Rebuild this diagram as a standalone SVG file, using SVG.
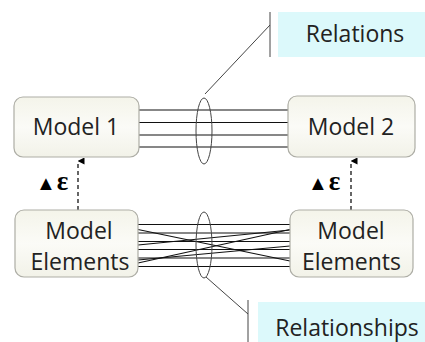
<svg xmlns="http://www.w3.org/2000/svg" width="425" height="342" viewBox="0 0 425 342">
<defs>
<linearGradient id="boxg" x1="0" y1="0" x2="0" y2="1">
<stop offset="0" stop-color="#f4f4ea"/>
<stop offset="0.5" stop-color="#fbfbf7"/>
<stop offset="1" stop-color="#f2f2e8"/>
</linearGradient>
<marker id="ah" markerWidth="7" markerHeight="7" refX="3.5" refY="0.5" orient="auto-start-reverse" markerUnits="userSpaceOnUse" viewBox="0 0 7 7">
<path d="M0,7 L3.5,0 L7,7 Z" fill="#000"/>
</marker>
</defs>
<style>
.box{fill:url(#boxg);stroke:#adada5;stroke-width:1.2}
.lbl{font-family:"Open Sans","Liberation Sans",sans-serif;font-size:23px;fill:#222;text-anchor:middle}
.ln{stroke:#111;stroke-width:1.1;fill:none}
.ell{stroke:#444;stroke-width:1;fill:none}
.call{stroke:#444;stroke-width:1;fill:none}
.note{fill:#dcf9fb}
.dash{stroke:#000;stroke-width:1.2;stroke-dasharray:4,3;fill:none}
.eps{font-family:"Liberation Serif",serif;font-weight:bold;fill:#000}
</style>
<g id="connectors">
<line class="ln" x1="139" y1="110" x2="288" y2="110"/>
<line class="ln" x1="139" y1="122.5" x2="288" y2="122.5"/>
<line class="ln" x1="139" y1="135" x2="288" y2="135"/>
<line class="ln" x1="139" y1="147" x2="288" y2="147"/>
<line class="ln" x1="138" y1="224.5" x2="290" y2="224.5"/>
<line class="ln" x1="138" y1="233" x2="290" y2="233"/>
<line class="ln" x1="138" y1="241.5" x2="290" y2="241.5"/>
<line class="ln" x1="138" y1="249.5" x2="290" y2="249.5"/>
<line class="ln" x1="138" y1="258" x2="290" y2="258"/>
<line class="ln" x1="138" y1="266.5" x2="290" y2="266.5"/>
<line class="ln" x1="138" y1="229.5" x2="290" y2="261"/>
<line class="ln" x1="138" y1="245" x2="290" y2="230"/>
<line class="ln" x1="138" y1="263" x2="290" y2="229.5"/>
<line class="ln" x1="138" y1="260" x2="290" y2="246"/>
<line class="dash" x1="78" y1="210" x2="78" y2="161" marker-end="url(#ah)"/>
<line class="dash" x1="351" y1="210" x2="351" y2="161" marker-end="url(#ah)"/>
</g>
<g id="relations-ellipse">
<ellipse class="ell" cx="204" cy="131" rx="8" ry="33"/>
<line class="call" x1="205" y1="94" x2="270" y2="25"/>
</g>
<g id="relationships-ellipse">
<ellipse class="ell" cx="204" cy="245" rx="8" ry="33"/>
<line class="call" x1="206" y1="277" x2="248" y2="314"/>
</g>
<g id="model1">
<rect class="box" x="14" y="97" width="125" height="60" rx="9"/>
<text class="lbl" x="76" y="135">Model 1</text>
</g>
<g id="model2">
<rect class="box" x="288" y="96" width="127" height="61" rx="9"/>
<text class="lbl" x="351" y="135">Model 2</text>
</g>
<g id="elements1">
<rect class="box" x="15" y="210" width="123" height="67" rx="9"/>
<text class="lbl" x="79" y="239">Model</text>
<text class="lbl" x="80" y="270">Elements</text>
</g>
<g id="elements2">
<rect class="box" x="290" y="210" width="123" height="67" rx="9"/>
<text class="lbl" x="351" y="239">Model</text>
<text class="lbl" x="351.5" y="270">Elements</text>
</g>
<g id="eps1">
<text class="eps" x="36" y="190"><tspan font-size="20">▲</tspan><tspan font-size="27" dx="1">ε</tspan></text>
</g>
<g id="eps2">
<text class="eps" x="308" y="190"><tspan font-size="20">▲</tspan><tspan font-size="27" dx="1">ε</tspan></text>
</g>
<g id="relations-label">
<line class="call" x1="270" y1="12" x2="270" y2="57"/>
<rect class="note" x="278" y="12" width="147" height="45"/>
<text class="lbl" x="355" y="42">Relations</text>
</g>
<g id="relationships-label">
<line class="call" x1="248" y1="300" x2="248" y2="342"/>
<rect class="note" x="258" y="302" width="167" height="40"/>
<text class="lbl" x="347" y="336">Relationships</text>
</g>
</svg>
